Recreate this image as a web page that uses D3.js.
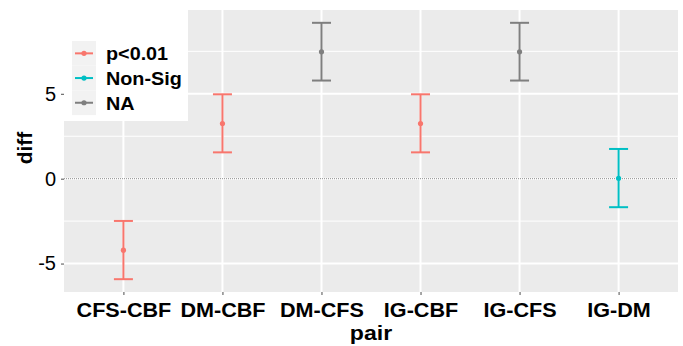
<!DOCTYPE html>
<html>
<head>
<meta charset="utf-8">
<script src="https://cdn.jsdelivr.net/npm/d3@7"></script>
<style>
  html, body { margin: 0; padding: 0; background: #fff; }
  svg { display: block; font-family: "Liberation Sans", Arial, sans-serif; }
</style>
</head>
<body>
<svg id="chart" width="683" height="346"></svg>
<script>
// pairwise differences with confidence bounds
const pairs = ["CFS-CBF", "DM-CBF", "DM-CFS", "IG-CBF", "IG-CFS", "IG-DM"]
const diff = [-4.21, 3.25, 7.47, 3.25, 7.47, 0.02]
const lwr = [-5.92, 1.55, 5.78, 1.55, 5.78, -1.68]
const upr = [-2.49, 4.97, 9.18, 4.97, 9.18, 1.75]
const signif = ["p<0.01", "p<0.01", "NA", "p<0.01", "NA", "Non-Sig"]

const legendLabels = ["p<0.01", "Non-Sig", "NA"]
const legendColors = ["#F8766D", "#00BFC4", "#7F7F7F"]
const yTicks = [-5, 0, 5]
const yMinor = [-2.5, 2.5, 7.5]

const stretch = 1.08

const dims = {
  width: 683,
  height: 346,
  margin: { top: 10, right: 5, bottom: 54, left: 64 }
}
const boundedWidth = dims.width - dims.margin.left - dims.margin.right
const boundedHeight = dims.height - dims.margin.top - dims.margin.bottom

const svg = d3.select("#chart")
const g = svg.append("g")
  .attr("transform", `translate(${dims.margin.left},${dims.margin.top})`)

const data = pairs.map((p, i) => ({ pair: p, diff: diff[i], lwr: lwr[i], upr: upr[i], sig: signif[i] }))

const color = d3.scaleOrdinal().domain(legendLabels).range(legendColors)

// ggplot style expansion: 0.6 units on discrete axis, 5% on continuous
const xScale = d3.scalePoint()
  .domain(pairs)
  .range([0, boundedWidth])
  .padding(0.6)

const yLo = d3.min(lwr), yHi = d3.max(upr)
const pad = (yHi - yLo) * 0.05
const yScale = d3.scaleLinear()
  .domain([yLo - pad, yHi + pad])
  .range([boundedHeight, 0])

// panel
g.append("rect")
  .attr("width", boundedWidth)
  .attr("height", boundedHeight)
  .attr("fill", "#EBEBEB")

g.selectAll(".minor")
  .data(yMinor)
  .join("line")
    .attr("class", "minor")
    .attr("x1", 0).attr("x2", boundedWidth)
    .attr("y1", d => yScale(d)).attr("y2", d => yScale(d))
    .attr("stroke", "#fff")
    .attr("stroke-width", 1)

g.selectAll(".major-y")
  .data(yTicks)
  .join("line")
    .attr("class", "major-y")
    .attr("x1", 0).attr("x2", boundedWidth)
    .attr("y1", d => yScale(d)).attr("y2", d => yScale(d))
    .attr("stroke", "#fff")
    .attr("stroke-width", 2)

g.selectAll(".major-x")
  .data(pairs)
  .join("line")
    .attr("class", "major-x")
    .attr("x1", d => xScale(d)).attr("x2", d => xScale(d))
    .attr("y1", 0).attr("y2", boundedHeight)
    .attr("stroke", "#fff")
    .attr("stroke-width", 2)

// reference line at zero
g.append("line")
  .attr("x1", 0).attr("x2", boundedWidth)
  .attr("y1", yScale(0)).attr("y2", yScale(0))
  .attr("stroke", "#8c8c8c")
  .attr("stroke-width", 1)
  .attr("stroke-dasharray", "1 1")

// error bars
const bars = g.selectAll(".bar")
  .data(data)
  .join("g")
    .attr("class", "bar")
    .attr("stroke", d => color(d.sig))
    .attr("fill", d => color(d.sig))

bars.append("line")
  .attr("x1", d => xScale(d.pair)).attr("x2", d => xScale(d.pair))
  .attr("y1", d => yScale(d.lwr)).attr("y2", d => yScale(d.upr))
  .attr("stroke-width", 2)

bars.append("line")
  .attr("x1", d => xScale(d.pair) - 9.5).attr("x2", d => xScale(d.pair) + 9.5)
  .attr("y1", d => yScale(d.upr)).attr("y2", d => yScale(d.upr))
  .attr("stroke-width", 2)

bars.append("line")
  .attr("x1", d => xScale(d.pair) - 9.5).attr("x2", d => xScale(d.pair) + 9.5)
  .attr("y1", d => yScale(d.lwr)).attr("y2", d => yScale(d.lwr))
  .attr("stroke-width", 2)

bars.append("circle")
  .attr("cx", d => xScale(d.pair))
  .attr("cy", d => yScale(d.diff))
  .attr("r", 2.6)
  .attr("stroke", "none")

// axes
const yAxis = g.append("g")
  .call(d3.axisLeft(yScale).tickValues(yTicks).tickSize(3).tickPadding(5).tickFormat(d => String(d)))
yAxis.select(".domain").remove()
yAxis.selectAll(".tick line").attr("stroke", "#4d4d4d")
yAxis.selectAll(".tick text")
  .attr("fill", "#000")
  .style("font-size", "20px")
  .style("font-family", "Liberation Sans, Arial, sans-serif")

const xAxis = g.append("g")
  .attr("transform", `translate(0,${boundedHeight})`)
  .call(d3.axisBottom(xScale).tickSize(3).tickPadding(0))
xAxis.select(".domain").remove()
xAxis.selectAll(".tick line").attr("stroke", "#4d4d4d")
xAxis.selectAll(".tick text")
  .attr("y", 25)
  .attr("dy", null)
  .attr("transform", `scale(${stretch},1)`)
  .attr("x", 0)
  .attr("fill", "#000")
  .style("font-size", "20px")
  .style("font-weight", "bold")
  .style("font-family", "Liberation Sans, Arial, sans-serif")

// axis titles
svg.append("text")
  .attr("transform", `translate(${dims.margin.left + boundedWidth / 2},340) scale(1.1,1)`)
  .attr("text-anchor", "middle")
  .attr("fill", "#000")
  .style("font-size", "21px")
  .style("font-weight", "bold")
  .text("pair")

svg.append("text")
  .attr("transform", "translate(32,148) rotate(-90)")
  .attr("text-anchor", "middle")
  .attr("fill", "#000")
  .style("font-size", "21px")
  .style("font-weight", "bold")
  .text("diff")

// legend
const legend = svg.append("g").attr("transform", "translate(64,10)")
legend.append("rect")
  .attr("width", 124)
  .attr("height", 111)
  .attr("fill", "#fff")

const keyH = 24.7
const items = legend.selectAll(".item")
  .data(legendLabels)
  .join("g")
    .attr("class", "item")
    .attr("transform", (d, i) => `translate(8,${31 + i * keyH})`)

items.append("rect")
  .attr("width", 24)
  .attr("height", keyH)
  .attr("fill", "#F2F2F2")

items.append("line")
  .attr("x1", 3).attr("x2", 21)
  .attr("y1", keyH / 2).attr("y2", keyH / 2)
  .attr("stroke", d => color(d))
  .attr("stroke-width", 2)

items.append("circle")
  .attr("cx", 12).attr("cy", keyH / 2)
  .attr("r", 2.6)
  .attr("fill", d => color(d))

items.append("text")
  .attr("transform", `translate(34,${keyH / 2 + 7}) scale(1.07,1)`)
  .attr("fill", "#000")
  .style("font-size", "18.5px")
  .style("font-weight", "bold")
  .text(d => d)
</script>
</body>
</html>
